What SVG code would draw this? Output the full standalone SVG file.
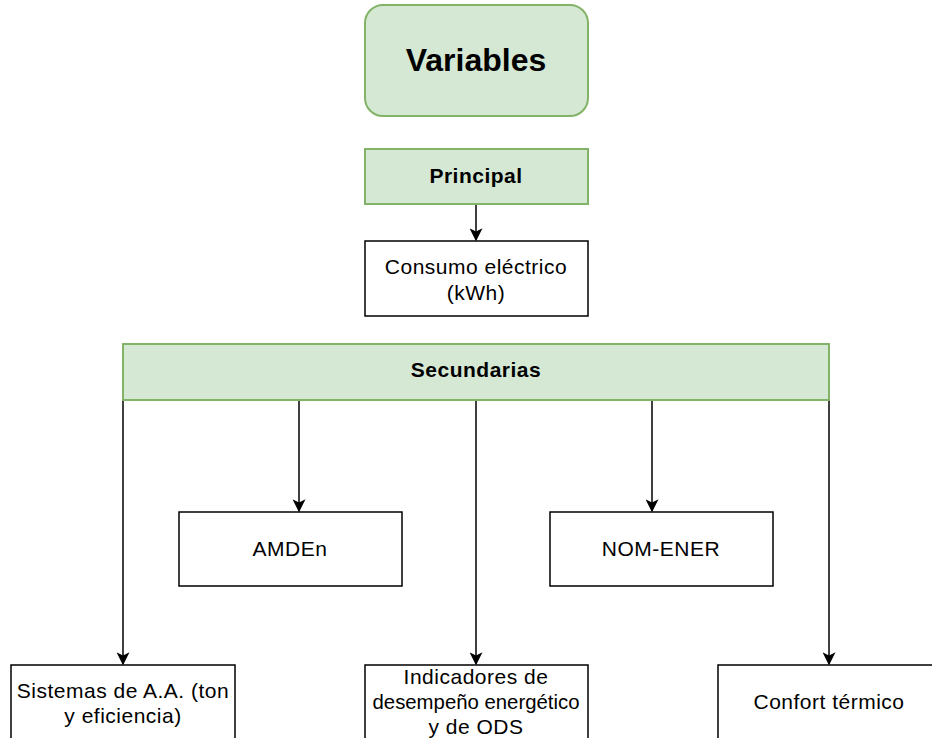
<svg xmlns="http://www.w3.org/2000/svg" width="932" height="738" viewBox="0 0 932 738">
<style>
.g{fill:#d5e8d4;stroke:#82b366;stroke-width:2}
.w{fill:#fff;stroke:#000;stroke-width:1.5}
.t{font-family:"Liberation Sans",Arial,sans-serif;font-size:21px;letter-spacing:0.5px;fill:#000;text-anchor:middle}
.b{font-weight:bold}
.c{stroke:#000;stroke-width:1.5;fill:none}
</style>
<defs>
<marker id="a" viewBox="0 0 10 10" refX="9" refY="5" markerWidth="13" markerHeight="13" markerUnits="userSpaceOnUse" orient="auto">
<path d="M0,0 L10,5 L0,10 L2.5,5 Z" fill="#000"/>
</marker>
</defs>
<rect width="932" height="738" fill="#fff"/>
<g id="connectors">
<line class="c" x1="476" y1="204" x2="476" y2="240" marker-end="url(#a)"/>
<line class="c" x1="123" y1="400" x2="123" y2="664" marker-end="url(#a)"/>
<line class="c" x1="299" y1="400" x2="299" y2="511" marker-end="url(#a)"/>
<line class="c" x1="476" y1="400" x2="476" y2="664" marker-end="url(#a)"/>
<line class="c" x1="652" y1="400" x2="652" y2="511" marker-end="url(#a)"/>
<line class="c" x1="829" y1="400" x2="829" y2="664" marker-end="url(#a)"/>
</g>
<g id="variables">
<rect class="g" x="365" y="5" width="223" height="111" rx="18"/>
<text class="t b" x="476" y="71" style="font-size:32px;letter-spacing:0">Variables</text>
</g>
<g id="principal">
<rect class="g" x="365" y="149" width="223" height="55"/>
<text class="t b" x="476" y="183">Principal</text>
</g>
<g id="consumo">
<rect class="w" x="365" y="241" width="223" height="75"/>
<text class="t" x="476" y="274">Consumo eléctrico</text>
<text class="t" x="476" y="300">(kWh)</text>
</g>
<g id="secundarias">
<rect class="g" x="123" y="344" width="706" height="56"/>
<text class="t b" x="476" y="377">Secundarias</text>
</g>
<g id="amden">
<rect class="w" x="179" y="512" width="223" height="74"/>
<text class="t" x="290" y="556">AMDEn</text>
</g>
<g id="nomener">
<rect class="w" x="550" y="512" width="223" height="74"/>
<text class="t" x="661" y="556">NOM-ENER</text>
</g>
<g id="sistemas">
<rect class="w" x="11" y="665" width="224" height="80"/>
<text class="t" x="123" y="698">Sistemas de A.A. (ton</text>
<text class="t" x="123" y="723">y eficiencia)</text>
</g>
<g id="indicadores">
<rect class="w" x="365" y="665" width="223" height="80"/>
<text class="t" x="476" y="684">Indicadores de</text>
<text class="t" x="476" y="709" style="letter-spacing:0" textLength="207" lengthAdjust="spacingAndGlyphs">desempeño energético</text>
<text class="t" x="476" y="734">y de ODS</text>
</g>
<g id="confort">
<rect class="w" x="718" y="665" width="223" height="80"/>
<text class="t" x="829" y="709">Confort térmico</text>
</g>
</svg>
